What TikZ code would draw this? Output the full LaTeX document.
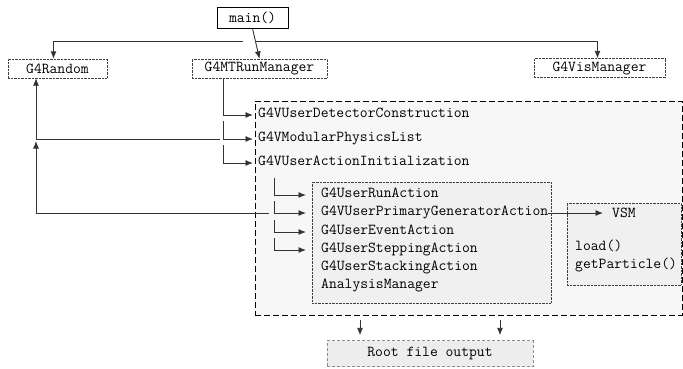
\documentclass[tikz,border=0pt]{standalone}
\usetikzlibrary{arrows.meta}
\begin{document}
\begin{tikzpicture}[x=1pt,y=-1pt,>={Latex[length=7.5pt,width=6pt]},%
% common options for the class boxes:
cls/.style = {draw=black!75, densely dotted, align=center, inner sep=0,
            font=\fontsize{15.2}{18}\ttfamily},
% common options for the text rows:
row/.style = {anchor=west, inner sep=0, text height=1.6ex, text depth=.4ex,
            font=\fontsize{15.2}{18}\ttfamily},
% common options for the lines:
wire/.style = {draw=black!80, line width=0.9pt}]
\useasboundingbox (0,0) rectangle (683,368);
% containers
\node[draw, dash pattern=on 6pt off 3pt, line width=0.9pt, fill=black!3,
      minimum width=427pt, minimum height=214pt] (world) at (468.5,208) {};
\node[cls, fill=black!6, minimum width=239pt, minimum height=121pt] (actbox) at (431.5,242.5) {};
\node[cls, fill=black!6, minimum width=114pt, minimum height=82pt] (vsmbox) at (624,244) {};
\node[cls, draw=black!45, densely dashed, fill=black!7,
      minimum width=206pt, minimum height=26pt] (root) at (430,353.5) {Root file output};
% top level
\node[draw, line width=1pt, fill=white, font=\fontsize{15.2}{18}\ttfamily,
      minimum width=71pt, minimum height=21pt, inner sep=0] (main) at (252.5,17.5) {main()};
\node[cls, minimum width=99pt, minimum height=19pt] (random) at (57.5,68.5) {G4Random};
\node[cls, minimum width=135pt, minimum height=19pt] (mtrun) at (259.5,68.5) {G4MTRunManager};
\node[cls, minimum width=131pt, minimum height=19pt] (vis) at (599.5,68) {G4VisManager};
% rows of the worker
\node[row] (det) at (258,115) {G4VUserDetectorConstruction};
\node[row] (phys) at (258,139) {G4VModularPhysicsList};
\node[row] (init) at (258,163) {G4VUserActionInitialization};
\node[row] (run) at (321,195) {G4UserRunAction};
\node[row] (gen) at (321,213) {G4VUserPrimaryGeneratorAction};
\node[row] (evt) at (321,232) {G4UserEventAction};
\node[row] (step) at (321,250) {G4UserSteppingAction};
\node[row] (stack) at (321,268) {G4UserStackingAction};
\node[row] (ana) at (321,286) {AnalysisManager};
\node[row] (vsm) at (612,215) {VSM};
\node[row] (load) at (575,248) {load()};
\node[row] (getp) at (575,266) {getParticle()};
% free ends
\coordinate (sl) at (243,41);
\coordinate (sr) at (256,41);
\coordinate (m1) at (223,78);
\coordinate (m2) at (223,121);
\coordinate (m3) at (223,145);
\coordinate (pl) at (220,139);
\coordinate (rl) at (36,139);
\coordinate (a0) at (274,178);
\coordinate (a1) at (274,201);
\coordinate (a2) at (274,220);
\coordinate (a3) at (274,238);
\coordinate (gl) at (269,213);
\coordinate (o1) at (360,320);
\coordinate (o2) at (500,320);
% connectors
\draw[wire,->] (main.south) -- (mtrun.north);
\draw[wire,->] (sl) -| ([xshift=-4pt]random.north);
\draw[wire,->] (sr) -| ([xshift=-2pt]vis.north);
\draw[wire,->,shorten >=5pt] (m1) |- (det.west);
\draw[wire,->,shorten >=5pt] (m2) |- (phys.west);
\draw[wire,->,shorten >=5pt] (m3) |- (init.west);
\draw[wire,->] (pl) -- (rl) -- (rl |- random.south);
\draw[wire,->] (gl) -| ([yshift=-2pt]rl);
\draw[wire,->,shorten >=15pt] (a0) |- (run.west);
\draw[wire,->,shorten >=15pt] (a1) |- (gen.west);
\draw[wire,->,shorten >=15pt] (a2) |- (evt.west);
\draw[wire,->,shorten >=15pt] (a3) |- (step.west);
\draw[wire,->,shorten >=9pt] (gen.east) -- (gen.east -| vsm.west);
\draw[wire,->,shorten >=5pt] (o1) -- (o1 |- root.north);
\draw[wire,->,shorten >=5pt] (o2) -- (o2 |- root.north);
\end{tikzpicture}
\end{document}
